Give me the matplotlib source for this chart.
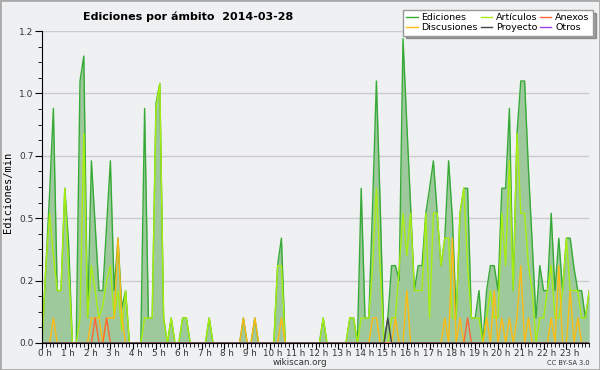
import matplotlib
matplotlib.use('Agg')
import math

import matplotlib.pyplot as plt
import matplotlib.transforms as mtransforms
import numpy as np
from matplotlib.patches import Rectangle
from matplotlib.ticker import FixedLocator, FuncFormatter, MultipleLocator

# Edits per minute, one value every 10 minutes (0:00 .. 24:00)
ediciones = [
    0, 0.3, 0.6, 0.94, 0.21, 0.21, 0.62, 0.4, 0, 0, 1.05, 1.15,
    0.1, 0.73, 0.47, 0.21, 0.21, 0.47, 0.73, 0.21, 0.42, 0.14, 0.21, 0,
    0, 0, 0, 0.94, 0.1, 0.1, 0.96, 1.04, 0.1, 0, 0.1, 0,
    0, 0.1, 0.1, 0, 0, 0, 0, 0, 0.1, 0, 0, 0,
    0, 0, 0, 0, 0, 0.1, 0, 0, 0.1, 0, 0, 0,
    0, 0, 0.31, 0.42, 0, 0, 0, 0, 0, 0, 0, 0,
    0, 0, 0.1, 0, 0, 0, 0, 0, 0, 0.1, 0.1, 0,
    0.62, 0.1, 0.1, 0.55, 1.05, 0.55, 0, 0.1, 0.31, 0.31, 0.25, 1.22,
    0.88, 0.55, 0.21, 0.31, 0.31, 0.52, 0.62, 0.73, 0.52, 0.31, 0.42, 0.73,
    0.5, 0.1, 0.52, 0.62, 0.62, 0.1, 0.1, 0.21, 0, 0.21, 0.31, 0.31,
    0.21, 0.62, 0.62, 0.94, 0.21, 0.84, 1.05, 1.05, 0.7, 0.4, 0.1, 0.31,
    0.21, 0.21, 0.52, 0.21, 0.42, 0.21, 0.42, 0.42, 0.3, 0.21, 0.21, 0.1,
    0.21,
]
articulos = [
    0, 0.3, 0.52, 0.35, 0.21, 0.21, 0.62, 0.3, 0, 0, 0.1, 0.84,
    0.1, 0.31, 0.21, 0.1, 0.15, 0.25, 0.31, 0.1, 0.21, 0.05, 0.21, 0,
    0, 0, 0, 0.1, 0.1, 0.1, 0.94, 1.04, 0.1, 0, 0.1, 0,
    0, 0.1, 0.1, 0, 0, 0, 0, 0, 0.1, 0, 0, 0,
    0, 0, 0, 0, 0, 0, 0, 0, 0, 0, 0, 0,
    0, 0, 0.31, 0.31, 0, 0, 0, 0, 0, 0, 0, 0,
    0, 0, 0.1, 0, 0, 0, 0, 0, 0, 0.1, 0.1, 0,
    0.1, 0.1, 0.1, 0.31, 0.62, 0.3, 0, 0, 0.1, 0.1, 0.3, 0.52,
    0.35, 0.52, 0.21, 0.21, 0.21, 0.52, 0.1, 0.52, 0.52, 0.31, 0.42, 0.42,
    0.1, 0.1, 0.52, 0.62, 0.31, 0.1, 0.1, 0.1, 0, 0.1, 0.21, 0.1,
    0.1, 0.52, 0.31, 0.73, 0.21, 0.84, 0.52, 0.52, 0.31, 0.21, 0, 0.1,
    0.1, 0.21, 0.31, 0.1, 0.1, 0.21, 0.42, 0.21, 0.21, 0.21, 0.1, 0.1,
    0.21,
]
discusiones = [
    0, 0, 0, 0.1, 0, 0, 0, 0, 0, 0, 0, 0,
    0, 0.1, 0.1, 0.1, 0, 0.1, 0.1, 0.1, 0.42, 0.1, 0, 0,
    0, 0, 0, 0, 0, 0, 0, 0, 0, 0, 0, 0,
    0, 0, 0, 0, 0, 0, 0, 0, 0, 0, 0, 0,
    0, 0, 0, 0, 0, 0.1, 0, 0, 0.1, 0, 0, 0,
    0, 0, 0, 0.1, 0, 0, 0, 0, 0, 0, 0, 0,
    0, 0, 0, 0, 0, 0, 0, 0, 0, 0, 0, 0,
    0, 0, 0, 0.1, 0.1, 0, 0, 0, 0, 0.1, 0, 0,
    0.21, 0, 0, 0, 0, 0, 0, 0, 0, 0, 0.1, 0,
    0.42, 0, 0.1, 0, 0, 0, 0, 0, 0, 0.1, 0, 0.21,
    0, 0.1, 0, 0.1, 0, 0.1, 0.31, 0, 0.1, 0, 0, 0,
    0, 0, 0.1, 0, 0.31, 0, 0, 0.21, 0, 0.1, 0, 0,
    0,
]
# sparse series: bin index -> value
anexos_bins = {14: 0.1, 17: 0.1, 112: 0.1}
proyecto_bins = {91: 0.1}
otros_bins = {}

hours = np.arange(len(ediciones)) / 6.0


def _expand(bins):
    y = np.zeros(len(hours))
    for k, v in bins.items():
        y[k] = v
    return y


BG = '#eff0f2'
fig = plt.figure(figsize=(6, 3.7), dpi=100, facecolor=BG)
ax = fig.add_axes([0.07, 0.073, 0.912, 0.843])
ax.set_facecolor(BG)

ax.fill_between(hours, ediciones, color='#9dc99d', lw=0)
l_ed, = ax.plot(hours, ediciones, color='#36aa36', lw=1)
l_art, = ax.plot(hours, articulos, color='#a8ee10', lw=1)
l_disc, = ax.plot(hours, discusiones, color='#ffbb11', lw=1)
l_anx, = ax.plot(hours, _expand(anexos_bins), color='#ff6633', lw=1)
l_pro, = ax.plot(hours, _expand(proyecto_bins), color='#444444', lw=1)
l_otr, = ax.plot(hours, _expand(otros_bins), color='#9944ee', lw=1)

ax.set_xlim(0, 24)
ax.set_ylim(0, 1.25)
for s in ('top', 'right'):
    ax.spines[s].set_visible(False)
ax.spines['left'].set_color('black')
ax.spines['bottom'].set_color('black')

ax.xaxis.set_major_locator(FixedLocator(range(24)))
ax.xaxis.set_minor_locator(MultipleLocator(1 / 6))
ax.set_xticklabels(['{} h'.format(h) for h in range(24)])
ax.yaxis.set_major_locator(MultipleLocator(0.25))
ax.yaxis.set_minor_locator(MultipleLocator(0.0625))
ax.yaxis.set_major_formatter(FuncFormatter(lambda v, p: '{:.1f}'.format(math.floor(v * 10 + 1e-6) / 10)))

ax.tick_params(axis='both', which='both', direction='out', colors='black', labelcolor='#333333')
ax.tick_params(axis='x', which='major', length=4, pad=0.5, labelsize=6.3)
ax.tick_params(axis='x', which='minor', length=3)
ax.tick_params(axis='y', which='major', length=5, pad=1, labelsize=6.5)
ax.tick_params(axis='y', which='minor', length=3)
offset = mtransforms.ScaledTranslation(3 / 100, 0, fig.dpi_scale_trans)
for lbl in ax.get_xticklabels():
    lbl.set_transform(lbl.get_transform() + offset)

ax.yaxis.grid(True, color='#cccccc', lw=1)
ax.set_axisbelow(True)

fig.text(0.313, 0.954, 'Ediciones por ámbito  2014-03-28', fontsize=8, fontweight='bold',
         ha='center', va='center')
fig.text(0.014, 0.48, 'Ediciones/min', family='DejaVu Sans Mono', fontsize=7.5,
         rotation=90, ha='center', va='center')
fig.text(0.5, 0.02, 'wikiscan.org', fontsize=6.3, ha='center', va='center', color='#333333')
fig.text(0.983, 0.02, 'CC BY-SA 3.0', fontsize=4.8, ha='right', va='center', color='#333333')

ax.legend([l_ed, l_disc, l_art, l_pro, l_anx, l_otr],
          ['Ediciones', 'Discusiones', 'Artículos', 'Proyecto', 'Anexos', 'Otros'],
          loc='upper right', bbox_to_anchor=(0.988, 0.973), bbox_transform=fig.transFigure,
          ncol=3, fontsize=6.8, frameon=True, shadow=True, fancybox=False,
          edgecolor='#999999', facecolor='white', framealpha=1,
          handlelength=1.2, handletextpad=0.4, columnspacing=0.3,
          borderpad=0.35, labelspacing=0.1, borderaxespad=0)

fig.patches.append(Rectangle((0, 0), 1, 1, transform=fig.transFigure, fill=False,
                             edgecolor='#aaaaaa', lw=2))

fig.savefig('out.png', dpi=100, facecolor=BG)
